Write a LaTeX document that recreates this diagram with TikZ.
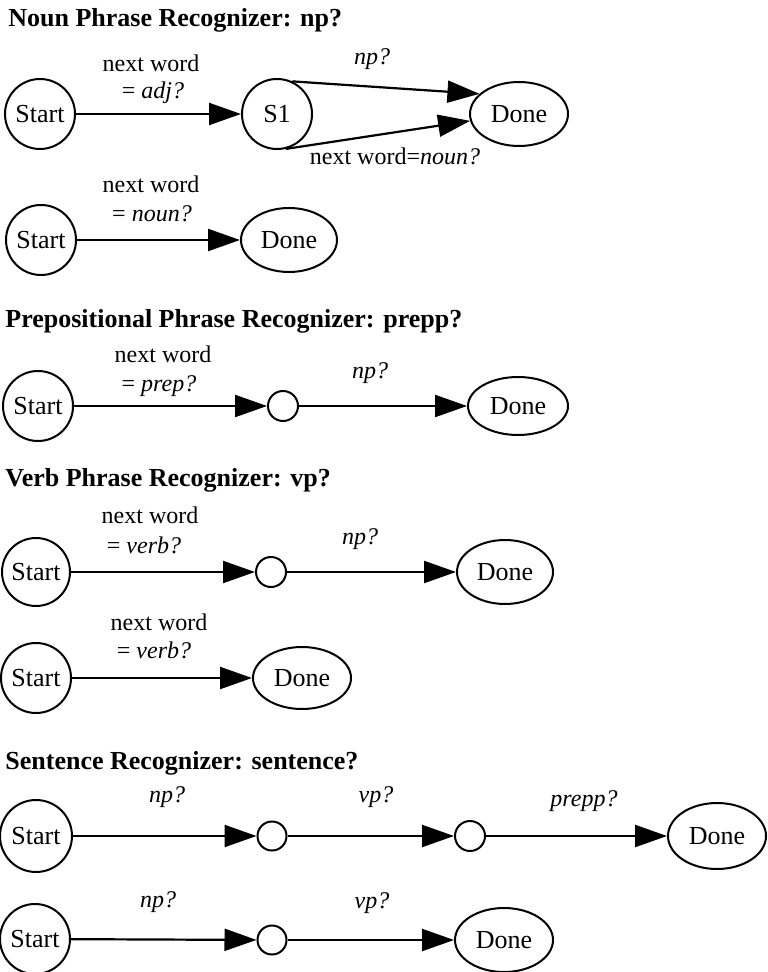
\documentclass[tikz,border=0pt]{standalone}
\usepackage{fontspec}
\setmainfont{Liberation Serif}
\usetikzlibrary{arrows.meta,shapes.geometric}
\begin{document}
\begin{tikzpicture}[x=0.5pt,y=-0.5pt,
  every node/.style={font=\fontsize{13}{15}\selectfont},
  startnode/.style={circle,draw,line width=1pt,inner sep=0pt,minimum size=35pt},
  waypt/.style={circle,draw,line width=1pt,inner sep=0pt,minimum size=15pt},
  donenode/.style={ellipse,draw,line width=1pt,inner sep=0pt,minimum width=49pt,minimum height=31pt},
  arr/.style={line width=1.1pt,-{Triangle[length=16pt,width=11pt]}},
  lbl/.style={anchor=base,inner sep=0pt,font=\fontsize{12}{14}\selectfont},
  ttl/.style={anchor=base west,inner sep=0pt,font=\fontsize{13}{15}\selectfont\bfseries}]
\useasboundingbox (0,0) rectangle (767,972);

% ---------- Noun phrase ----------
\node[ttl] (t1) at (8,27) {Noun Phrase Recognizer: np?};
\node[startnode] (n1s) at (40,114) {Start};
\node[startnode] (n1a) at (277,114) {S1};
\node[donenode,minimum height=32pt] (n1d) at (519,114) {Done};
\draw[arr] (n1s) -- (n1a);
\draw[arr] (n1a.65) -- (n1d.153);
\draw[arr] (n1a.-76) -- (n1d.188);
\node[lbl] (l1a) at (151,72) {next word};
\node[lbl] (l1b) at (153,99) {= \textit{adj?}};
\node[lbl] (l1c) at (372,65) {\textit{np?}};
\node[lbl] (l1d) at (395,165) {next word=\textit{noun?}};

\node[startnode] (n2s) at (41,240) {Start};
\node[donenode,minimum width=48pt,minimum height=32pt] (n2d) at (289,240) {Done};
\draw[arr] (n2s) -- (n2d);
\node[lbl] (l2a) at (151,193) {next word};
\node[lbl] (l2b) at (152,222) {= \textit{noun?}};

% ---------- Prepositional phrase ----------
\node[ttl] (t2) at (5,328) {Prepositional Phrase Recognizer: prepp?};
\node[startnode] (p1s) at (38,406) {Start};
\node[waypt] (p1m) at (283,406) {};
\node[donenode,minimum width=50pt,minimum height=29pt] (p1d) at (518,406) {Done};
\draw[arr] (p1s) -- (p1m);
\draw[arr] (p1m) -- (p1d);
\node[lbl] (l3a) at (163,363) {next word};
\node[lbl] (l3b) at (159,391) {= \textit{prep?}};
\node[lbl] (l3c) at (370,379) {\textit{np?}};

% ---------- Verb phrase ----------
\node[ttl] (t3) at (5,486) {Verb Phrase Recognizer: vp?};
\node[startnode,minimum size=34pt] (v1s) at (36,572) {Start};
\node[waypt] (v1m) at (271,572) {};
\node[donenode,minimum width=48pt,minimum height=32pt] (v1d) at (505,572) {Done};
\draw[arr] (v1s) -- (v1m);
\draw[arr] (v1m) -- (v1d);
\node[lbl] (l4a) at (150,523) {next word};
\node[lbl] (l4b) at (144,553) {= \textit{verb?}};
\node[lbl] (l4c) at (360,544) {\textit{np?}};

\node[startnode] (v2s) at (36,678) {Start};
\node[donenode] (v2d) at (302,678) {Done};
\draw[arr] (v2s) -- (v2d);
\node[lbl] (l5a) at (159,630) {next word};
\node[lbl] (l5b) at (154,658) {= \textit{verb?}};

% ---------- Sentence ----------
\node[ttl] (t4) at (5,769) {Sentence Recognizer: sentence?};
\node[startnode,minimum size=36pt] (s1s) at (36,836) {Start};
\node[waypt,minimum size=14.5pt] (s1m) at (272,836) {};
\node[waypt] (s1n) at (470,836) {};
\node[donenode,minimum height=33pt] (s1d) at (717,836) {Done};
\draw[arr] (s1s) -- (s1m);
\draw[arr] (s1m) -- (s1n);
\draw[arr] (s1n) -- (s1d);
\node[lbl] (l6a) at (167,802) {\textit{np?}};
\node[lbl] (l6b) at (376,802) {\textit{vp?}};
\node[lbl] (l6c) at (584,806) {\textit{prepp?}};

\node[startnode] (s2s) at (35,939) {Start};
\node[waypt,minimum size=14.5pt] (s2m) at (272,940) {};
\node[donenode,minimum height=32pt] (s2d) at (504,940) {Done};
\draw[arr] (s2s) -- (s2m);
\draw[arr] (s2m) -- (s2d);
\node[lbl] (l7a) at (158,907) {\textit{np?}};
\node[lbl] (l7b) at (372,908) {\textit{vp?}};
\end{tikzpicture}
\end{document}
